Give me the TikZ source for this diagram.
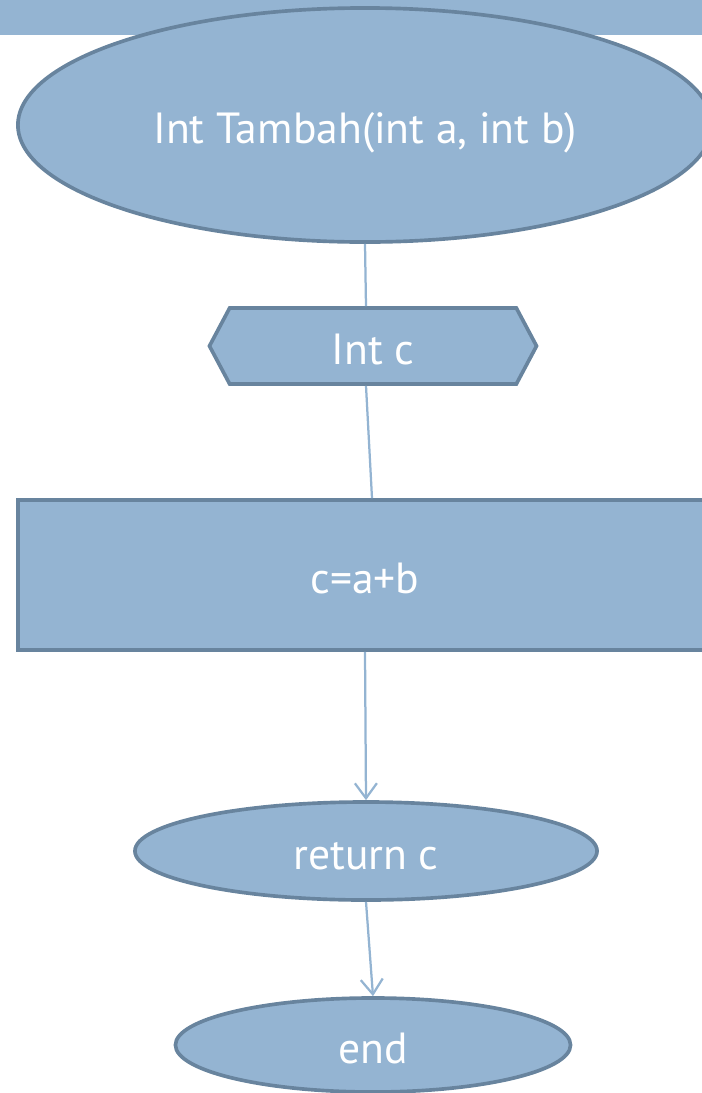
\documentclass[tikz,border=0pt]{standalone}
\usepackage{fontspec}
\setmainfont{PT Sans}
\usetikzlibrary{shapes.geometric,shapes.symbols,arrows.meta}

\definecolor{boxfill}{HTML}{94B4D2}
\definecolor{boxline}{HTML}{68849E}

\begin{document}
\begin{tikzpicture}[x=0.025cm, y=-0.025cm,
    base/.style={draw=boxline, line width=2.6pt, fill=boxfill, text=white,
        inner sep=0pt, text height=30pt, text depth=4pt,
        font=\fontsize{31}{36}\selectfont},
    terminal/.style={base, ellipse},
    prep/.style={base, signal, signal to=west and east, signal pointer angle=124},
    process/.style={base, rectangle},
    link/.style={boxfill, line width=1.6pt},
    flow/.style={link, -{Straight Barb[length=0.375cm, width=0.55cm]}}]
    \useasboundingbox (0,0) rectangle (702,1093);
    \clip (0,0) rectangle (702,1093);

    % title bar
    \fill[boxfill] (0,0) rectangle (702,35);

    % function head
    \node[terminal, minimum width=17.35cm, minimum height=5.85cm] (func) at (365,125) {Int Tambah(int a, int b)};

    % declaration
    \node[prep, minimum width=8.175cm, minimum height=1.9cm] (decl) at (373,346) {Int c};

    % body
    \node[process, minimum width=17.35cm, minimum height=3.75cm] (proc) at (365,575) {c=a+b};

    % return and end
    \node[terminal, minimum width=11.55cm, minimum height=2.45cm] (ret) at (366,851) {return c};
    \node[terminal, minimum width=9.875cm, minimum height=2.35cm] (stop) at (373,1045) {end};

    % connectors
    \draw[link] (func.south) -- ([xshift=-0.175cm]decl.north);
    \draw[link] ([xshift=-0.175cm]decl.south) -- ([xshift=0.175cm]proc.north);
    \draw[flow] (proc.south) -- (ret.north);
    \draw[flow] (ret.south) -- (stop.north);
\end{tikzpicture}
\end{document}
